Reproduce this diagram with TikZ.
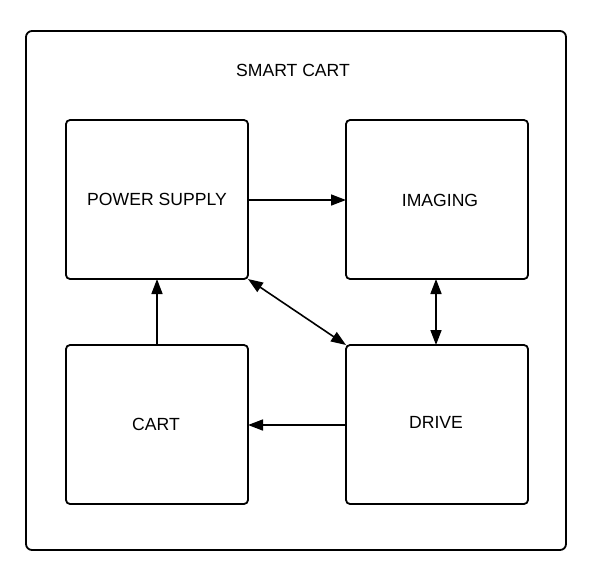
\documentclass[tikz,border=0pt]{standalone}
\usepackage{fontspec}
\setmainfont{Liberation Sans}
\usetikzlibrary{arrows.meta}
\begin{document}
\begin{tikzpicture}[x=1pt,y=-1pt,
  box/.style={draw,line width=1.8pt,rounded corners=4pt},
  lbl/.style={font=\fontsize{17.6}{20}\selectfont,inner sep=0pt},
  conn/.style={line width=1.6pt,-{Triangle[length=15pt,width=11pt]}},
  dconn/.style={line width=1.6pt,{Triangle[length=15pt,width=11pt]}-{Triangle[length=15pt,width=11pt]}}]
\useasboundingbox (0,0) rectangle (593,579);
\draw[box,rounded corners=6pt] (26,31) rectangle (566,550);
\node[lbl] (title) at (293,70) {SMART CART};
\draw[box] (66,120) rectangle (248,279);
\draw[box] (346,120) rectangle (528,279);
\draw[box] (66,345) rectangle (248,504);
\draw[box] (346,345) rectangle (528,504);
\node[lbl] (pst) at (157,199) {POWER SUPPLY};
\node[lbl] (imt) at (440,200) {IMAGING};
\node[lbl] (cat) at (156,424) {CART};
\node[lbl] (drt) at (436,422) {DRIVE};
\coordinate (psR) at (248,200);
\coordinate (imL) at (346,200);
\coordinate (psBR) at (248,279);
\coordinate (drTL) at (346,345);
\coordinate (imB) at (436,279);
\coordinate (drT) at (436,345);
\coordinate (caT) at (157,345);
\coordinate (psB) at (157,279);
\coordinate (drL) at (346,425);
\coordinate (caR) at (248,425);
\draw[conn] (psR) -- (imL);
\draw[dconn] (psBR) -- (drTL);
\draw[dconn] (imB) -- (drT);
\draw[conn] (caT) -- (psB);
\draw[conn] (drL) -- (caR);
\end{tikzpicture}
\end{document}
